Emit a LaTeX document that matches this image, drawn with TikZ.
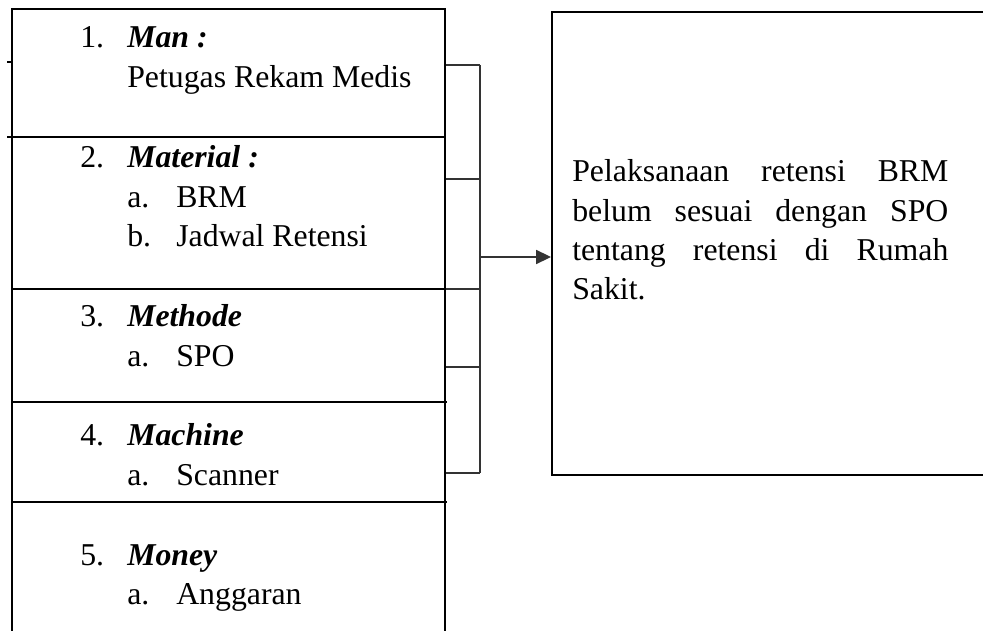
\documentclass[tikz,border=0pt]{standalone}
\usepackage{fontspec}
\setmainfont{Liberation Serif}
\usetikzlibrary{arrows.meta,positioning}

\tikzset{
  px/.style={x=0.025cm, y=-0.025cm},
  frame/.style={draw, line width=1.5pt, inner sep=0pt},
  divider/.style={line width=1pt},
  branch/.style={line width=1pt, draw=black!80},
  item/.style={anchor=base west, inner sep=0pt, font=\fontsize{22.6}{28.2}\selectfont},
  verdict/.style={anchor=west, inner sep=0pt, text width=9.4cm, align=justify,
    font=\fontsize{22.6}{27.9}\selectfont},
}
\newcommand{\catnum}[1]{\makebox[1.175cm][l]{#1}}
\newcommand{\subnum}[1]{\makebox[1.225cm][l]{#1}}
\newcommand{\cat}[1]{\textbf{\textit{#1}}}

\begin{document}
\begin{tikzpicture}[px]
    \useasboundingbox (0,0) rectangle (983,630);
    \clip (0,0) rectangle (983,630);

    % Left column of causes
    \node[frame, anchor=north west, minimum width=10.825cm, minimum height=16.5cm] (col) at (11,8) {};
    \draw[divider] (7,62) -- (11,62);
    \draw[divider] (7,137) -- (444,137);
    \draw[divider] (11,289) -- (444,289);
    \draw[divider] (11,402) -- (447,402);
    \draw[divider] (11,502) -- (447,502);

    % Man
    \node[item] (man) at (80,48) {\catnum{1.}\cat{Man :}};
    \node[item] (man1) at (127,88) {Petugas Rekam Medis};
    % Material
    \node[item] (mat) at (80,167) {\catnum{2.}\cat{Material :}};
    \node[item] (mat1) at (127,207) {\subnum{a.}BRM};
    \node[item] (mat2) at (127,246) {\subnum{b.}Jadwal Retensi};
    % Methode
    \node[item] (met) at (80,326) {\catnum{3.}\cat{Methode}};
    \node[item] (met1) at (127,366) {\subnum{a.}SPO};
    % Machine
    \node[item] (mac) at (80,445) {\catnum{4.}\cat{Machine}};
    \node[item] (mac1) at (127,485) {\subnum{a.}Scanner};
    % Money
    \node[item] (mon) at (80,565) {\catnum{5.}\cat{Money}};
    \node[item] (mon1) at (127,604) {\subnum{a.}Anggaran};

    % Result box
    \node[frame, anchor=north west, minimum width=11.5cm, minimum height=11.575cm] (result) at (551,11) {};
    \node[verdict] (resulttext) at (572,230) {\hyphenpenalty=10000 \tolerance=10000 \emergencystretch=0pt Pelaksanaan retensi BRM belum sesuai dengan SPO tentang retensi di Rumah Sakit.};

    % Bracket
    \coordinate (spine1) at (480,65);
    \coordinate (spine2) at (480,179);
    \coordinate (spine3) at (480,289);
    \coordinate (spine4) at (480,367);
    \coordinate (spine5) at (480,473);
    \coordinate (fork) at (480,257);
    \draw[branch] (col.east |- spine1) -- (spine1);
    \draw[branch] (col.east |- spine2) -- (spine2);
    \draw[branch] (col.east |- spine3) -- (spine3);
    \draw[branch] (col.east |- spine4) -- (spine4);
    \draw[branch] (col.east |- spine5) -- (spine5);
    \draw[branch] (spine1) -- (spine5);
    \draw[branch, -{Triangle[length=0.37cm, width=0.35cm]}] (fork) -- (fork -| result.west);
\end{tikzpicture}
\end{document}
